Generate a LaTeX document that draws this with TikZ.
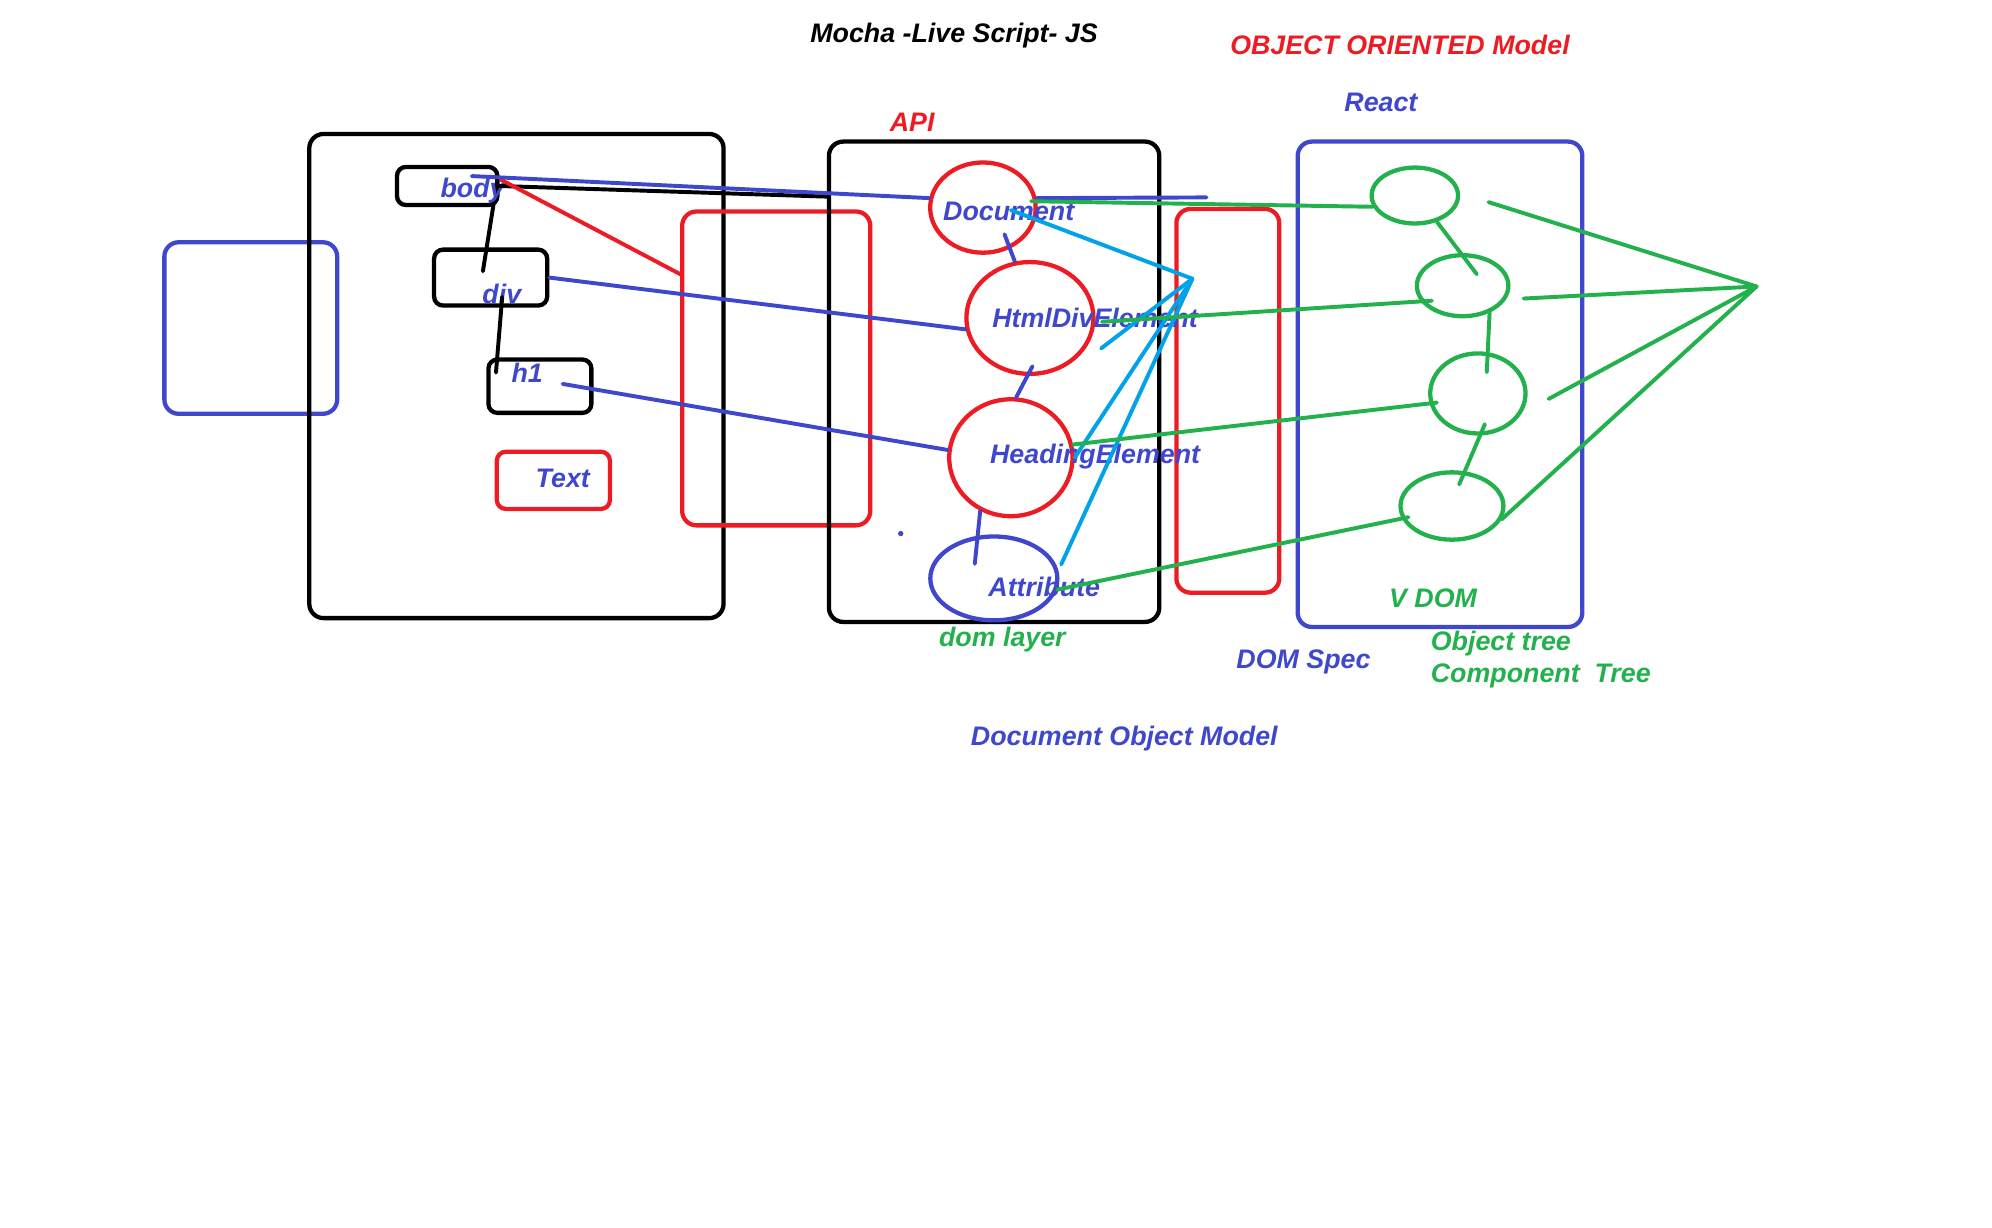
\documentclass[tikz,border=0pt]{standalone}
\usepackage{fontspec}
\setmainfont{Liberation Sans}
\usetikzlibrary{calc, shapes.geometric}
\definecolor{paintblue}{HTML}{3F48CC}
\definecolor{paintred}{HTML}{ED1C24}
\definecolor{paintgreen}{HTML}{22B14C}
\definecolor{paintcyan}{HTML}{00A2E8}

\begin{document}
\begin{tikzpicture}[
    x=0.025cm, y=-0.025cm,
    box/.style    = {rectangle, draw, rounded corners=8pt, line width=2.4pt,
                     inner sep=0pt},
    tag/.style    = {rectangle, draw, rounded corners=5pt, line width=2.4pt,
                     inner sep=0pt},
    bubble/.style = {ellipse, draw, line width=2.4pt, inner sep=0pt},
    word/.style   = {font=\fontsize{15}{18}\selectfont\bfseries\itshape,
                     inner sep=0pt, yshift=-1.6pt},
    pen/.style    = {line width=2.2pt, line cap=round}
  ]
  \useasboundingbox (0,0) rectangle (1568,966);

  % ── Left: page with markup ──────────────────────────────────
  \node[box, draw=paintblue, minimum width=3.4cm, minimum height=3.375cm] (screen) at (197.4,258.2) {};
  \node[box, minimum width=8.15cm, minimum height=9.525cm]  (page) at (406.5,296) {};
  \node[tag, minimum width=1.975cm, minimum height=0.75cm]  (body) at (352,146.4) {};
  \node[tag, minimum width=2.225cm, minimum height=1.1cm]   (div)  at (386.2,218.5) {};
  \node[tag, minimum width=2.025cm, minimum height=1.05cm]  (h1)   at (425,304) {};
  \node[tag, draw=paintred, minimum width=2.225cm, minimum height=1.125cm] (txt) at (435.6,378.1) {};
  \node[box, draw=paintred, minimum width=3.7cm, minimum height=6.175cm]   (bridge) at (611,290) {};

  % ── Middle: DOM API ─────────────────────────────────────────
  \node[box, minimum width=6.5cm, minimum height=9.45cm] (api) at (782.5,300.5) {};
  \node[bubble, draw=paintred,  minimum width=2.075cm, minimum height=1.775cm] (docE)  at (773.7,163.4) {};
  \node[bubble, draw=paintred,  minimum width=2.5cm,   minimum height=2.2cm]   (divE)  at (810.7,250.3) {};
  \node[bubble, draw=paintred,  minimum width=2.425cm, minimum height=2.3cm]   (headE) at (795.7,360.3) {};
  \node[bubble, draw=paintblue, minimum width=2.5cm,   minimum height=1.65cm]  (attrE) at (782.3,455.3) {};
  \node[circle, fill=paintblue, inner sep=0pt, minimum size=3pt] (dot) at (709,420) {};
  \node[box, draw=paintred, minimum width=2.025cm, minimum height=7.55cm] (spec) at (966.5,315.5) {};

  % ── Right: React virtual DOM ────────────────────────────────
  \node[box, draw=paintblue, minimum width=5.6cm, minimum height=9.55cm] (react) at (1133.5,302.5) {};
  \node[bubble, draw=paintgreen, minimum width=1.7cm,   minimum height=1.1cm]   (v1) at (1113.7,153.9) {};
  \node[bubble, draw=paintgreen, minimum width=1.8cm,   minimum height=1.2cm]   (v2) at (1151.3,224.9) {};
  \node[bubble, draw=paintgreen, minimum width=1.875cm, minimum height=1.575cm] (v3) at (1163.3,309.7) {};
  \node[bubble, draw=paintgreen, minimum width=2.025cm, minimum height=1.325cm] (v4) at (1142.9,398.3) {};

  \coordinate (hub)  at (938.6,219.4);
  \coordinate (apex) at (1382.7,225.5);
  \coordinate (stub) at (949.7,155.4);

  % ── Labels ──────────────────────────────────────────────────
  \node[word]                  (title)  at (751,26)   {Mocha -Live Script- JS};
  \node[word, text=paintred]   (oom)    at (1102,33)  {OBJECT ORIENTED Model};
  \node[word, text=paintblue]  (reactL) at (1087,78)  {React};
  \node[word, text=paintred]   (apiL)   at (718,94)   {API};
  \node[word, text=paintblue]  (bodyT)  at (372,148)  {body};
  \node[word, text=paintblue]  (divT)   at (395,229)  {div};
  \node[word, text=paintblue]  (h1T)    at (415,291)  {h1};
  \node[word, text=paintblue]  (txtT)   at (443,374)  {Text};
  \node[word, text=paintblue]  (docT)   at (794,164)  {Document};
  \node[word, text=paintblue]  (divET)  at (862,248)  {HtmlDivElement};
  \node[word, text=paintblue]  (headT)  at (862,357)  {HeadingElement};
  \node[word, text=paintblue]  (attrT)  at (822,460)  {Attribute};
  \node[word, text=paintgreen] (layerL) at (789,501)  {dom layer};
  \node[word, text=paintgreen] (vdomL)  at (1128,469) {V DOM};
  \node[word, text=paintblue]  (specL)  at (1026,519) {DOM Spec};
  \node[word, text=paintgreen, anchor=west] (objL)  at (1126,504.5) {Object tree};
  \node[word, text=paintgreen, anchor=west] (compL) at (1126,530)   {Component~~Tree};
  \node[word, text=paintblue]  (domL)   at (885,579)  {Document Object Model};

  % ── Markup tree ─────────────────────────────────────────────
  \draw[pen] ($(body)+(36.5,14.4)$) -- ($(div)+(-6.1,-5)$);
  \draw[pen] ($(div)+(9.1,15.3)$) -- ($(h1)+(-34.6,-10.7)$);
  \draw[pen] (body.east) -- ($(api.north west)+(0,45)$);
  \draw[pen, paintred] ($(body.east)+(1,-5)$) -- ($(bridge.north west)+(2,52)$);

  % ── Markup to DOM objects ───────────────────────────────────
  \draw[pen, paintblue] ($(body)+(19.4,-7.8)$) -- (docE.170);
  \draw[pen, paintblue] (div.east) -- (divE.190);
  \draw[pen, paintblue] ($(h1)+(17.9,-1.8)$) -- (headE.173);
  \draw[pen, paintblue] ($(docE)+(17,21)$) -- (divE.105);
  \draw[pen, paintblue] ($(divE)+(2,38)$) -- (headE.85);
  \draw[pen, paintblue] (headE.240) -- ($(attrE)+(-15,-11.5)$);
  \draw[pen, paintblue] (docE.10) -- (stub);

  % ── Spec fan ────────────────────────────────────────────────
  \draw[pen, paintcyan] ($(docE)+(22,2)$) -- (hub);
  \draw[pen, paintcyan] ($(divE)+(56,24)$) -- (hub);
  \draw[pen, paintcyan] (headE.east) -- (hub);
  \draw[pen, paintcyan] ($(attrE)+(53,-11)$) -- (hub);

  % ── DOM to virtual DOM ──────────────────────────────────────
  \draw[pen, paintgreen] ($(docE)+(38,-5)$) -- (v1.195);
  \draw[pen, paintgreen] ($(divE.east)+(5,3)$) -- ($(v2)+(-24.2,11.8)$);
  \draw[pen, paintgreen] (headE.12) -- ($(v3)+(-32.3,7.2)$);
  \draw[pen, paintgreen] (attrE.-10) -- ($(v4)+(-34.2,8.8)$);

  % ── Virtual tree ────────────────────────────────────────────
  \draw[pen, paintgreen] (v1.-50) -- ($(v2)+(11.2,-9)$);
  \draw[pen, paintgreen] (v2.-45) -- ($(v3)+(7,-16.8)$);
  \draw[pen, paintgreen] ($(v3)+(5.5,24.2)$) -- ($(v4)+(5.7,-17)$);

  % ── Component fan ───────────────────────────────────────────
  \draw[pen, paintgreen] ($(v1)+(58,5.2)$) -- (apex);
  \draw[pen, paintgreen] ($(v2)+(48,10.1)$) -- (apex);
  \draw[pen, paintgreen] ($(v3)+(55.7,4.3)$) -- (apex);
  \draw[pen, paintgreen] (v4.-15) -- (apex);

\end{tikzpicture}
\end{document}
